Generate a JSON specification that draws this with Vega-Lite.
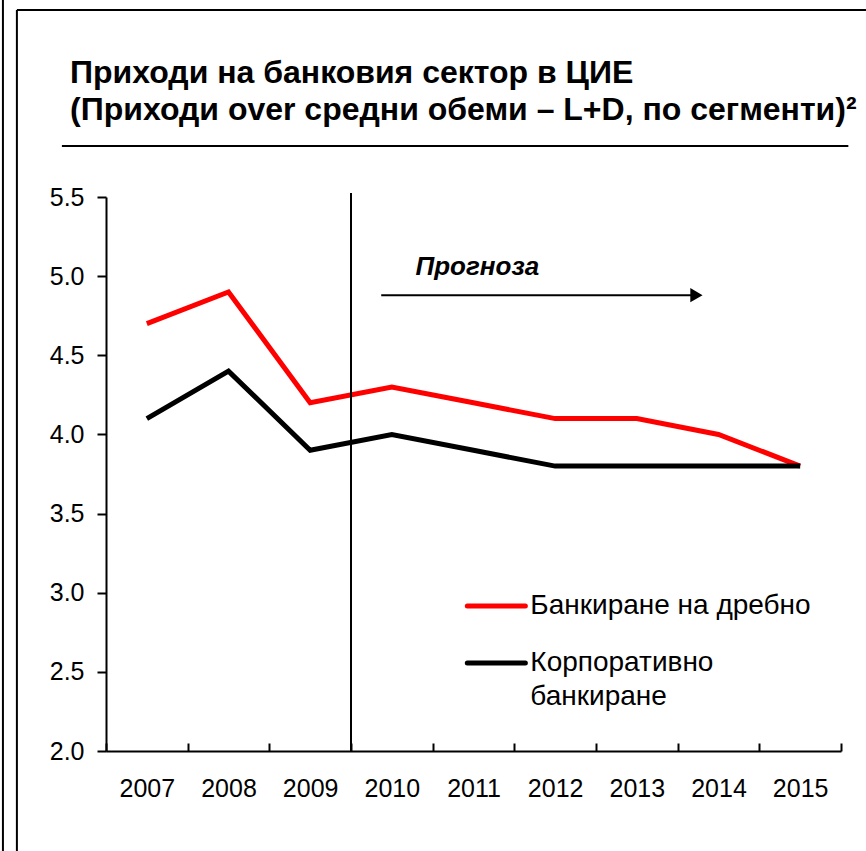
{
  "$schema": "https://vega.github.io/schema/vega-lite/v6.json",
  "autosize": "none",
  "width": 735,
  "height": 554,
  "padding": {"left": 106, "top": 197, "right": 25, "bottom": 100},
  "background": "white",
  "config": {"view": {"stroke": null}, "font": "Liberation Sans"},
  "title": {
    "text": ["Приходи на банковия сектор в ЦИЕ", "(Приходи over средни обеми – L+D, по сегменти)²"],
    "anchor": "start",
    "frame": "group",
    "dx": -36,
    "offset": -168,
    "font": "Liberation Sans",
    "fontSize": 32,
    "fontWeight": "bold",
    "lineHeight": 37,
    "color": "#000000"
  },
  "resolve": {"scale": {"x": "independent"}},
  "layer": [
    {
      "data": {"values": [
        {"year": "2007", "series": "Банкиране на дребно", "value": 4.7},
        {"year": "2008", "series": "Банкиране на дребно", "value": 4.9},
        {"year": "2009", "series": "Банкиране на дребно", "value": 4.2},
        {"year": "2010", "series": "Банкиране на дребно", "value": 4.3},
        {"year": "2011", "series": "Банкиране на дребно", "value": 4.2},
        {"year": "2012", "series": "Банкиране на дребно", "value": 4.1},
        {"year": "2013", "series": "Банкиране на дребно", "value": 4.1},
        {"year": "2014", "series": "Банкиране на дребно", "value": 4.0},
        {"year": "2015", "series": "Банкиране на дребно", "value": 3.8},
        {"year": "2007", "series": "Корпоративно банкиране", "value": 4.1},
        {"year": "2008", "series": "Корпоративно банкиране", "value": 4.4},
        {"year": "2009", "series": "Корпоративно банкиране", "value": 3.9},
        {"year": "2010", "series": "Корпоративно банкиране", "value": 4.0},
        {"year": "2011", "series": "Корпоративно банкиране", "value": 3.9},
        {"year": "2012", "series": "Корпоративно банкиране", "value": 3.8},
        {"year": "2013", "series": "Корпоративно банкиране", "value": 3.8},
        {"year": "2014", "series": "Корпоративно банкиране", "value": 3.8},
        {"year": "2015", "series": "Корпоративно банкиране", "value": 3.8}
      ]},
      "mark": {"type": "line", "strokeWidth": 5, "strokeJoin": "miter"},
      "encoding": {
        "x": {
          "field": "year", "type": "ordinal",
          "scale": {"type": "band", "paddingInner": 0, "paddingOuter": 0},
          "axis": {
            "title": null, "labelAngle": 0, "tickBand": "extent",
            "tickSize": -8, "tickWidth": 2, "tickColor": "#000000",
            "domainColor": "#000000", "domainWidth": 2,
            "labelFont": "Liberation Sans", "labelFontSize": 25, "labelColor": "#000000",
            "labelPadding": 33, "grid": false
          }
        },
        "y": {
          "field": "value", "type": "quantitative",
          "scale": {"domain": [2, 5.5], "nice": false, "zero": false},
          "axis": {
            "title": null, "values": [2, 2.5, 3, 3.5, 4, 4.5, 5, 5.5], "format": ".1f",
            "tickSize": 9, "tickWidth": 2, "tickColor": "#000000",
            "domainColor": "#000000", "domainWidth": 2,
            "labelFont": "Liberation Sans", "labelFontSize": 25, "labelColor": "#000000",
            "labelPadding": 13, "grid": false
          }
        },
        "color": {
          "field": "series", "type": "nominal",
          "scale": {"domain": ["Банкиране на дребно", "Корпоративно банкиране"], "range": ["#ff0000", "#000000"]},
          "legend": null
        }
      }
    },
    {
      "data": {"values": [{}]},
      "mark": {"type": "rule", "strokeWidth": 2, "color": "#000000"},
      "encoding": {
        "x": {"datum": 2009.5, "type": "quantitative", "scale": {"domain": [2006.5, 2015.5], "nice": false, "zero": false}, "axis": null},
        "y": {"datum": 2.0, "type": "quantitative", "scale": {"domain": [2, 5.5], "nice": false, "zero": false}},
        "y2": {"datum": 5.525}
      }
    },
    {
      "data": {"values": [{}]},
      "mark": {"type": "rule", "strokeWidth": 2, "color": "#000000"},
      "encoding": {
        "x": {"datum": 2009.87, "type": "quantitative", "scale": {"domain": [2006.5, 2015.5], "nice": false, "zero": false}, "axis": null},
        "x2": {"datum": 2013.7},
        "y": {"datum": 4.88, "type": "quantitative", "scale": {"domain": [2, 5.5], "nice": false, "zero": false}}
      }
    },
    {
      "data": {"values": [{}]},
      "mark": {"type": "point", "shape": "triangle-right", "filled": true, "size": 200, "color": "#000000", "opacity": 1},
      "encoding": {
        "x": {"datum": 2013.73, "type": "quantitative", "scale": {"domain": [2006.5, 2015.5], "nice": false, "zero": false}, "axis": null},
        "y": {"datum": 4.88, "type": "quantitative", "scale": {"domain": [2, 5.5], "nice": false, "zero": false}}
      }
    },
    {
      "data": {"values": [{}]},
      "mark": {"type": "text", "text": "Прогноза", "align": "left", "baseline": "middle", "font": "Liberation Sans", "fontSize": 26, "fontWeight": "bold", "fontStyle": "italic", "color": "#000000"},
      "encoding": {
        "x": {"datum": 2010.29, "type": "quantitative", "scale": {"domain": [2006.5, 2015.5], "nice": false, "zero": false}, "axis": null},
        "y": {"datum": 5.057, "type": "quantitative", "scale": {"domain": [2, 5.5], "nice": false, "zero": false}}
      }
    },
    {
      "data": {"values": [{}]},
      "mark": {"type": "rule", "strokeWidth": 2, "color": "#000000"},
      "encoding": {
        "x": {"datum": 2005.96, "type": "quantitative", "scale": {"domain": [2006.5, 2015.5], "nice": false, "zero": false}, "axis": null},
        "x2": {"datum": 2015.59},
        "y": {"datum": 5.822, "type": "quantitative", "scale": {"domain": [2, 5.5], "nice": false, "zero": false}}
      }
    },
    {
      "data": {"values": [{}]},
      "mark": {"type": "rule", "strokeWidth": 5, "color": "#ff0000", "strokeCap": "round"},
      "encoding": {
        "x": {"datum": 2010.924, "type": "quantitative", "scale": {"domain": [2006.5, 2015.5], "nice": false, "zero": false}, "axis": null},
        "x2": {"datum": 2011.635},
        "y": {"datum": 2.916, "type": "quantitative", "scale": {"domain": [2, 5.5], "nice": false, "zero": false}}
      }
    },
    {
      "data": {"values": [{}]},
      "mark": {"type": "rule", "strokeWidth": 5, "color": "#000000", "strokeCap": "round"},
      "encoding": {
        "x": {"datum": 2010.924, "type": "quantitative", "scale": {"domain": [2006.5, 2015.5], "nice": false, "zero": false}, "axis": null},
        "x2": {"datum": 2011.635},
        "y": {"datum": 2.556, "type": "quantitative", "scale": {"domain": [2, 5.5], "nice": false, "zero": false}}
      }
    },
    {
      "data": {"values": [{}]},
      "mark": {"type": "text", "text": "Банкиране на дребно", "align": "left", "baseline": "middle", "font": "Liberation Sans", "fontSize": 28, "color": "#000000"},
      "encoding": {
        "x": {"datum": 2011.696, "type": "quantitative", "scale": {"domain": [2006.5, 2015.5], "nice": false, "zero": false}, "axis": null},
        "y": {"datum": 2.916, "type": "quantitative", "scale": {"domain": [2, 5.5], "nice": false, "zero": false}}
      }
    },
    {
      "data": {"values": [{}]},
      "mark": {"type": "text", "text": ["Корпоративно", "банкиране"], "lineHeight": 34, "align": "left", "baseline": "middle", "font": "Liberation Sans", "fontSize": 28, "color": "#000000"},
      "encoding": {
        "x": {"datum": 2011.696, "type": "quantitative", "scale": {"domain": [2006.5, 2015.5], "nice": false, "zero": false}, "axis": null},
        "y": {"datum": 2.556, "type": "quantitative", "scale": {"domain": [2, 5.5], "nice": false, "zero": false}}
      }
    },
    {
      "data": {"values": [{}]},
      "mark": {"type": "rule", "strokeWidth": 2, "color": "#000000"},
      "encoding": {
        "x": {"datum": 2005.238, "type": "quantitative", "scale": {"domain": [2006.5, 2015.5], "nice": false, "zero": false}, "axis": null},
        "y": {"datum": 1.3, "type": "quantitative", "scale": {"domain": [2, 5.5], "nice": false, "zero": false}},
        "y2": {"datum": 7.0}
      }
    },
    {
      "data": {"values": [{}]},
      "mark": {"type": "rule", "strokeWidth": 2, "color": "#000000"},
      "encoding": {
        "x": {"datum": 2005.409, "type": "quantitative", "scale": {"domain": [2006.5, 2015.5], "nice": false, "zero": false}, "axis": null},
        "y": {"datum": 1.3, "type": "quantitative", "scale": {"domain": [2, 5.5], "nice": false, "zero": false}},
        "y2": {"datum": 6.681}
      }
    },
    {
      "data": {"values": [{}]},
      "mark": {"type": "rule", "strokeWidth": 2, "color": "#000000"},
      "encoding": {
        "x": {"datum": 2005.409, "type": "quantitative", "scale": {"domain": [2006.5, 2015.5], "nice": false, "zero": false}, "axis": null},
        "x2": {"datum": 2016.0},
        "y": {"datum": 6.681, "type": "quantitative", "scale": {"domain": [2, 5.5], "nice": false, "zero": false}}
      }
    }
  ]
}
